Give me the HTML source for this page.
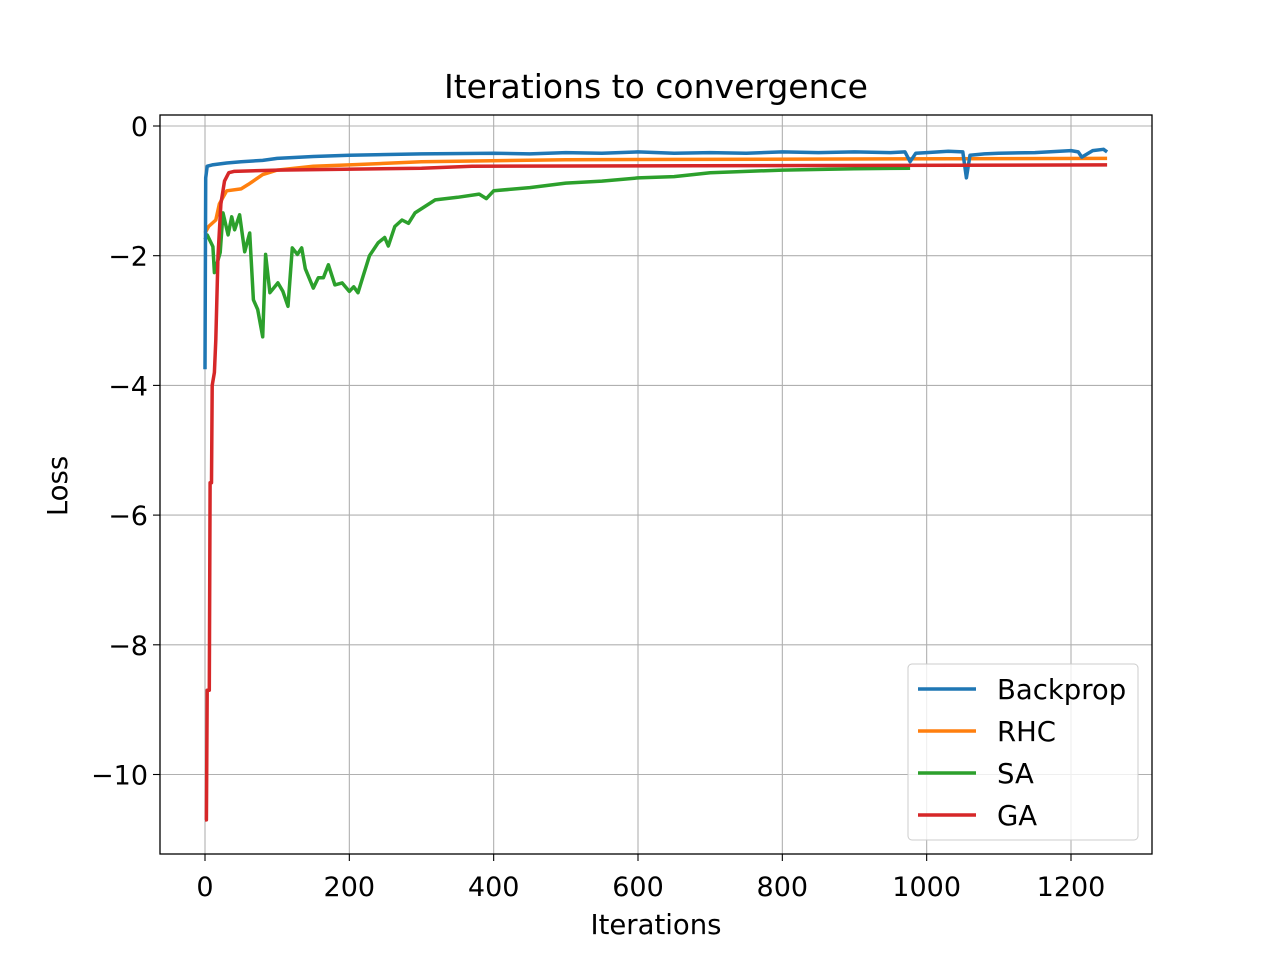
<!DOCTYPE html>
<html><head><meta charset="utf-8"><style>
body{margin:0;background:#fff;}
svg{display:block;font-family:"DejaVu Sans","Liberation Sans",sans-serif;}
</style></head><body>
<svg id="chart" width="1280" height="960" viewBox="0 0 1280 960">
<rect width="1280" height="960" fill="#fff"/>
<g id="grid"></g>
<g id="series"></g>
<rect x="160" y="115" width="992" height="739" fill="none" stroke="#000" stroke-width="1.3"/>
<g id="ticks"></g>
<text x="656" y="98" font-size="33" text-anchor="middle">Iterations to convergence</text>
<text x="656" y="934" font-size="27.5" text-anchor="middle">Iterations</text>
<text x="67" y="486" font-size="27.5" text-anchor="middle" transform="rotate(-90 67 486)">Loss</text>
<g id="legend">
<rect x="908" y="664" width="230" height="176" rx="4" fill="#fff" fill-opacity="0.8" stroke="#ccc"/>
</g>
</svg>
<script>
const seriesNames=["Backprop","RHC","SA","GA"];
const colors=["#1f77b4","#ff7f0e","#2ca02c","#d62728"];
const bpX=[0,1,3,10,30,50,80,100,150,200,300,400,450,500,550,600,650,700,750,800,850,900,950,970,977,985,1000,1030,1050,1055,1060,1080,1100,1150,1200,1210,1215,1230,1245,1250];
const bpY=[-3.75,-0.8,-0.62,-0.6,-0.57,-0.55,-0.53,-0.5,-0.47,-0.45,-0.43,-0.42,-0.43,-0.41,-0.42,-0.4,-0.42,-0.41,-0.42,-0.4,-0.41,-0.4,-0.41,-0.4,-0.55,-0.42,-0.41,-0.39,-0.4,-0.8,-0.45,-0.43,-0.42,-0.41,-0.38,-0.4,-0.48,-0.38,-0.36,-0.4];
const rhcX=[0,5,15,20,30,50,60,80,100,150,200,300,500,1250];
const rhcY=[-1.65,-1.55,-1.45,-1.2,-1.0,-0.97,-0.9,-0.75,-0.68,-0.62,-0.6,-0.55,-0.52,-0.5];
const saX=[0,3,11,13,21,25,32,37,41,48,55,62,67,73,80,84,90,101,108,115,121,128,134,139,150,157,164,171,180,190,200,206,212,219,228,240,249,254,263,273,282,291,305,319,350,380,390,400,450,500,550,600,650,700,800,900,977];
const saY=[-1.75,-1.68,-1.86,-2.26,-1.95,-1.34,-1.68,-1.4,-1.6,-1.37,-1.94,-1.65,-2.68,-2.83,-3.25,-1.98,-2.57,-2.42,-2.55,-2.78,-1.88,-1.98,-1.88,-2.2,-2.5,-2.34,-2.34,-2.14,-2.45,-2.42,-2.55,-2.48,-2.57,-2.32,-2.0,-1.8,-1.72,-1.85,-1.55,-1.45,-1.5,-1.34,-1.24,-1.14,-1.1,-1.05,-1.12,-1.0,-0.95,-0.88,-0.85,-0.8,-0.78,-0.72,-0.68,-0.66,-0.65];
const gaX=[0,2,3,6,7,9,10,13,15,18,22,27,33,40,100,300,370,1250];
const gaY=[-10.7,-10.7,-8.7,-8.7,-5.5,-5.5,-4.0,-3.8,-3.3,-2.0,-1.2,-0.85,-0.72,-0.7,-0.68,-0.65,-0.62,-0.6];
const xTicks=[0,200,400,600,800,1000,1200];
const yTicks=[0,-2,-4,-6,-8,-10];
const yTickLabels=["0","\u22122","\u22124","\u22126","\u22128","\u221210"];
const NS="http://www.w3.org/2000/svg";
function sx(v){return 205+v*(866/1200);}
function sy(v){return 126-v*64.85;}
function mk(tag,attrs,parent){const e=document.createElementNS(NS,tag);for(const k in attrs)e.setAttribute(k,attrs[k]);parent.appendChild(e);return e;}
const grid=document.getElementById('grid'),ticks=document.getElementById('ticks'),ser=document.getElementById('series'),leg=document.getElementById('legend');
xTicks.forEach(t=>{
 const l=mk('line',{x1:sx(t),x2:sx(t),y1:115,y2:854,stroke:'#b0b0b0','stroke-width':1.1},grid);
 
 
 mk('line',{x1:sx(t),x2:sx(t),y1:854,y2:861,stroke:'#000','stroke-width':1.1},ticks);
 const tx=mk('text',{x:sx(t),y:896,'font-size':27,'text-anchor':'middle'},ticks);
 tx.textContent=t;
 
 
});
yTicks.forEach((t,i)=>{
 const l=mk('line',{x1:160,x2:1152,y1:sy(t),y2:sy(t),stroke:'#b0b0b0','stroke-width':1.1},grid);
 
 
 mk('line',{x1:153,x2:160,y1:sy(t),y2:sy(t),stroke:'#000','stroke-width':1.1},ticks);
 const tx=mk('text',{x:148,y:sy(t)+10,'font-size':27,'text-anchor':'end'},ticks);
 tx.textContent=yTickLabels[i];
 
 
});
const data=[[bpX,bpY],[rhcX,rhcY],[saX,saY],[gaX,gaY]];
const order=[2,1,0,3];
order.forEach(i=>{
 const [xs,ys]=data[i];
 const p=mk('polyline',{points:xs.map((x,j)=>sx(x).toFixed(1)+','+sy(ys[j]).toFixed(1)).join(' '),fill:'none',stroke:colors[i],'stroke-width':3.5,'stroke-linejoin':'round'},ser);
 
 
});
seriesNames.forEach((n,i)=>{
 const y=689+i*42;
 const g=mk('g',{},leg);
 
 
 mk('line',{x1:918,x2:976,y1:y,y2:y,stroke:colors[i],'stroke-width':3.5},g);
 const t=mk('text',{x:997,y:y+10,'font-size':27.5},g);
 t.textContent=n;
});
</script>
</body></html>
